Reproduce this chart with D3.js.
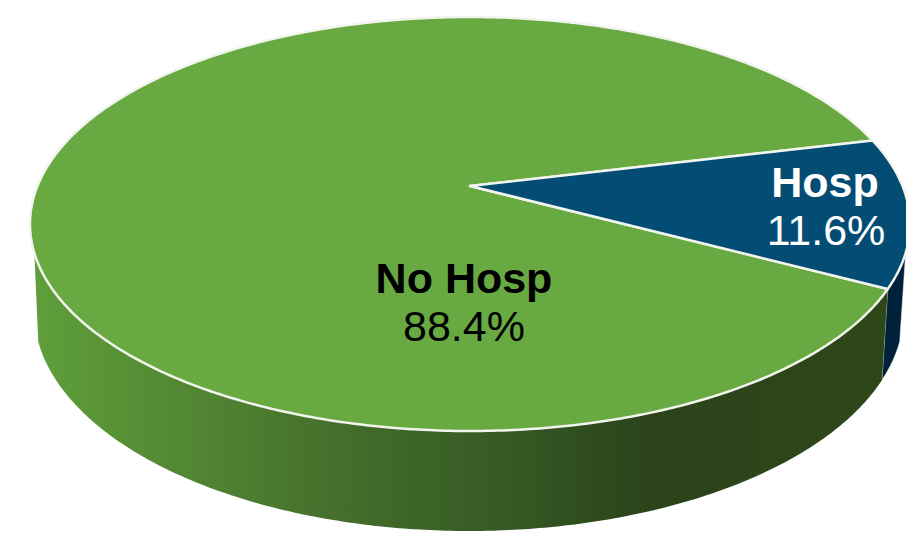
<!DOCTYPE html>
<html>
<head>
<meta charset="utf-8">
<script src="https://cdn.jsdelivr.net/npm/d3@7/dist/d3.min.js"></script>
<style>
  html, body { margin: 0; padding: 0; background: #fff; overflow: hidden; }
  svg { display: block; }
  text { font-family: "Liberation Sans", Arial, sans-serif; font-size: 43px; text-anchor: middle; }
</style>
</head>
<body>
<svg id="chart" width="906" height="547"></svg>
<script>
// Share of patients by hospitalisation outcome
const categories = ["No Hosp", "Hosp"];
const shares = [88.4, 11.6];

const sliceColors = ["#69a942", "#034c74"];
const labelColors = ["#000000", "#ffffff"];
const labelAnchors = [[464, 293], [825, 197]];
const valueAnchors = [[464, 341], [826, 245]];

const width = 906, height = 547;
const svg = d3.select("#chart");

// The disc is tilted in perspective, so its centre sits above the middle of the ellipse.
const tilt = 0.1836;
const squeeze = Math.sqrt(1 - tilt * tilt);

const topX = d3.scaleLinear().domain([-1, 1]).range([30, 910]);
const topY = d3.scaleLinear().domain([-1, 1]).range([17, 431]);
const baseX = d3.scaleLinear().domain([-1, 1]).range([34, 904]);
const baseY = d3.scaleLinear().domain([-1, 1]).range([91, 531]);

// Rim point for a pie angle, with 0 pointing right and angles running clockwise.
function rim(angle, sx, sy) {
  const u = Math.cos(angle), v = Math.sin(angle);
  const w = 1 - tilt * v;
  return [sx(u * squeeze / w), sy((v - tilt) / w)];
}

function arcPoints(a0, a1, sx, sy) {
  const steps = Math.max(2, Math.ceil(Math.abs(a1 - a0) / 0.01));
  return d3.range(steps + 1).map(i => rim(a0 + (a1 - a0) * i / steps, sx, sy));
}

const line = d3.line();
const rad = d3.scaleLinear().domain([0, 360]).range([0, 2 * Math.PI]);

// The pie starts at the upper edge of the Hosp wedge and runs clockwise.
const hospStart = rad(-13.7);
const pie = d3.pie().sort(null).value(d => d)
  .startAngle(hospStart + 2 * Math.PI * shares[1] / 100 )
  .endAngle(hospStart + 2 * Math.PI + 2 * Math.PI * shares[1] / 100);
const slices = pie(shares);

// Horizontal shading of the side wall
const defs = svg.append("defs");
const wallStops = [
  [0, "#5f9f3b"], [0.2, "#508432"], [0.4, "#41692a"], [0.55, "#355a24"],
  [0.72, "#2b431a"], [1, "#2e4719"]
];
const wallGrad = defs.append("linearGradient").attr("id", "wallShade")
  .attr("gradientUnits", "userSpaceOnUse")
  .attr("x1", 32).attr("x2", 890).attr("y1", 0).attr("y2", 0);
wallStops.forEach(s => wallGrad.append("stop").attr("offset", s[0]).attr("stop-color", s[1]));

// Side walls: only the part of the rim facing the viewer is visible
const greenStart = slices[0].startAngle;
const wallLeft = rad(161.6);
const wallRight = rad(18.4);

function wallPath(a0, a1) {
  const upper = arcPoints(a0, a1, topX, topY);
  const lower = arcPoints(a1, a0, baseX, baseY);
  return line(upper.concat(lower)) + "Z";
}

svg.append("path")
  .attr("d", wallPath(wallRight, greenStart))
  .attr("fill", "#00213a")
  .attr("stroke", "#ffffff").attr("stroke-opacity", 0.5).attr("stroke-width", 1);

svg.append("path")
  .attr("d", wallPath(greenStart, wallLeft))
  .attr("fill", "url(#wallShade)");

// Top face, one path per slice, drawn from the tilted centre out to the rim
const hub = [topX(0), topY(-tilt)];
svg.selectAll("path.slice")
  .data(slices)
  .join("path")
  .attr("class", "slice")
  .attr("d", d => line([hub].concat(arcPoints(d.startAngle, d.endAngle, topX, topY))) + "Z")
  .attr("fill", (d, i) => sliceColors[i])
  .attr("stroke", "#f2f4ee")
  .attr("stroke-width", 2.5)
  .attr("stroke-linejoin", "round");

// Category names and percentages
const fmt = d3.format(".1f");
svg.selectAll("text.name")
  .data(categories)
  .join("text")
  .attr("class", "name")
  .attr("x", (d, i) => labelAnchors[i][0])
  .attr("y", (d, i) => labelAnchors[i][1])
  .attr("fill", (d, i) => labelColors[i])
  .attr("font-weight", "bold")
  .text(d => d);

svg.selectAll("text.share")
  .data(shares)
  .join("text")
  .attr("class", "share")
  .attr("x", (d, i) => valueAnchors[i][0])
  .attr("y", (d, i) => valueAnchors[i][1])
  .attr("fill", (d, i) => labelColors[i])
  .text(d => fmt(d) + "%");
</script>
</body>
</html>
